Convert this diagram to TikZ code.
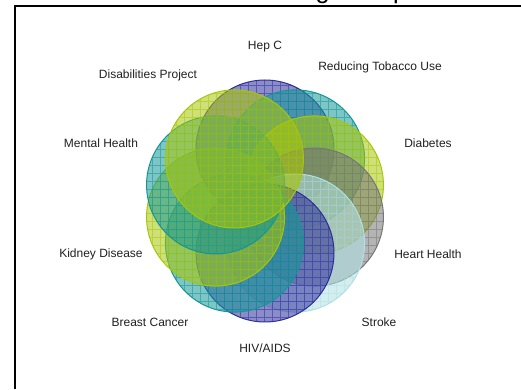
\documentclass[tikz,border=0pt]{standalone}
\usepackage{fontspec}
\setmainfont{Liberation Sans}
\usetikzlibrary{calc}
\definecolor{navyc}{RGB}{45,45,155}
\definecolor{tealc}{RGB}{20,150,150}
\definecolor{ygreen}{RGB}{167,198,9}
\definecolor{grayc}{RGB}{118,118,118}
\definecolor{lcyan}{RGB}{176,224,227}
\definecolor{txt}{RGB}{32,32,32}
\begin{document}
\begin{tikzpicture}[x=0.75pt,y=0.75pt,
  lbl/.style={font=\fontsize{9}{10}\selectfont, text=txt, inner sep=0pt},
  ttl/.style={font=\fontsize{19}{22}\selectfont, text=black, inner sep=0pt, anchor=base west},
  frame/.style={line width=1.5pt, black}]
\useasboundingbox (0,0) rectangle (521,389);
\coordinate (C) at (265,188);
\foreach \nm/\ang/\col in {hep/90/navyc, tob/54/tealc, dia/18/ygreen, hea/-18/grayc, str/-54/lcyan, hiv/-90/navyc, bre/-126/tealc, kid/-162/ygreen, men/162/tealc, dis/126/ygreen} {
  \coordinate (\nm) at ($(C)+(\ang:52)$);
  \fill[\col, fill opacity=0.55] (\nm) circle[radius=69];
  \begin{scope}
    \clip (\nm) circle[radius=69];
    \draw[\col, line width=0.5pt, opacity=0.55, step=8] (0,0) grid (521,389);
  \end{scope}
  \draw[\col, line width=0.75pt] (\nm) circle[radius=69];
}
\node[lbl] (lhep) at (265,342) {Hep C};
\node[lbl] (ltob) at (380,322) {Reducing Tobacco Use};
\node[lbl] (ldis) at (148,314) {Disabilities Project};
\node[lbl] (lmen) at (101,246) {Mental Health};
\node[lbl] (ldia) at (428,246) {Diabetes};
\node[lbl] (lkid) at (101,135) {Kidney Disease};
\node[lbl] (lhea) at (428,135) {Heart Health};
\node[lbl] (lbre) at (150,67) {Breast Cancer};
\node[lbl] (lstr) at (379,67) {Stroke};
\node[lbl] (lhiv) at (265,41) {HIV/AIDS};
\node[ttl] (title) at (237,390.4) {Working Groups};
\coordinate (fa) at (15,0);
\coordinate (fb) at (15,383.2);
\coordinate (fc) at (521,383.2);
\draw[frame] (fa) -- (fb) -- (fc);
\end{tikzpicture}
\end{document}
